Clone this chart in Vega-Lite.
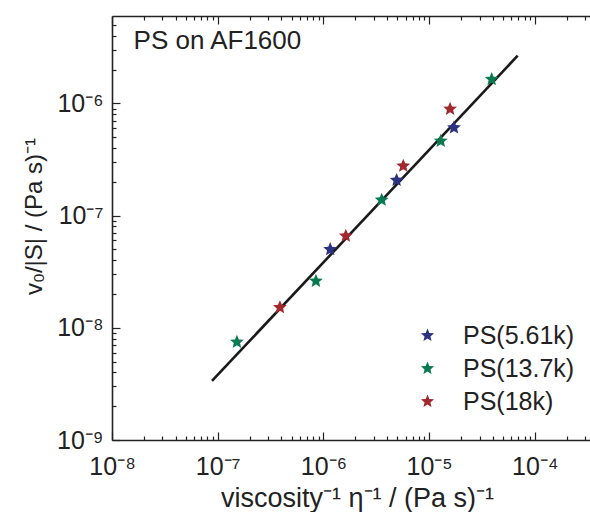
{
  "$schema": "https://vega.github.io/schema/vega-lite/v6.json",
  "width": 478,
  "height": 424,
  "autosize": {"type": "none"},
  "padding": {"left": 112, "top": 16, "right": 0, "bottom": 72},
  "background": "white",
  "config": {
    "view": {"stroke": null},
    "font": "Liberation Sans",
    "axis": {
      "grid": false,
      "domainColor": "#222222",
      "tickColor": "#222222",
      "labelColor": "#222222",
      "titleColor": "#222222",
      "labelFont": "Liberation Sans",
      "titleFont": "Liberation Sans",
      "labelFontSize": 25,
      "titleFontSize": 26,
      "titleFontWeight": "normal",
      "domainWidth": 1.6,
      "tickWidth": 1.2
    }
  },
  "datasets": {
    "points": [
      {"x": 1.52e-7, "y": 7.46e-9, "sample": "PS(13.7k)"},
      {"x": 3.88e-7, "y": 1.52e-8, "sample": "PS(18k)"},
      {"x": 8.5e-7, "y": 2.61e-8, "sample": "PS(13.7k)"},
      {"x": 1.16e-6, "y": 5.0e-8, "sample": "PS(5.61k)"},
      {"x": 1.63e-6, "y": 6.58e-8, "sample": "PS(18k)"},
      {"x": 3.56e-6, "y": 1.38e-7, "sample": "PS(13.7k)"},
      {"x": 4.93e-6, "y": 2.07e-7, "sample": "PS(5.61k)"},
      {"x": 5.70e-6, "y": 2.77e-7, "sample": "PS(18k)"},
      {"x": 1.29e-5, "y": 4.62e-7, "sample": "PS(13.7k)"},
      {"x": 1.72e-5, "y": 6.07e-7, "sample": "PS(5.61k)"},
      {"x": 1.58e-5, "y": 8.9e-7, "sample": "PS(18k)"},
      {"x": 3.91e-5, "y": 1.64e-6, "sample": "PS(13.7k)"}
    ],
    "fit": [
      {"x": 8.83e-8, "y": 3.36e-9},
      {"x": 6.89e-5, "y": 2.66e-6}
    ]
  },
  "resolve": {"axis": {"x": "independent", "y": "independent"}},
  "layer": [
    {
      "data": {"name": "fit"},
      "mark": {"type": "line", "color": "#1a1a1a", "strokeWidth": 2.6},
      "encoding": {
        "x": {
          "field": "x", "type": "quantitative",
          "scale": {"type": "log", "domain": [1e-8, 3.33e-4], "nice": false},
          "axis": {
            "orient": "bottom",
            "values": [1e-8, 1e-7, 1e-6, 1e-5, 1e-4],
            "labelExpr": "'10⁻' + ['⁰','¹','²','³','⁴','⁵','⁶','⁷','⁸','⁹'][round(-log(datum.value)/LN10)]",
            "tickSize": -8,
            "labelPadding": 22,
            "labelFlush": false,
            "labelOverlap": false,
            "title": "viscosity⁻¹ η⁻¹ / (Pa s)⁻¹",
            "titleFontSize": 27,
            "titleX": 245,
            "titlePadding": 6
          }
        },
        "y": {
          "field": "y", "type": "quantitative",
          "scale": {"type": "log", "domain": [1e-9, 6.01e-6], "nice": false},
          "axis": {
            "orient": "left",
            "values": [1e-9, 1e-8, 1e-7, 1e-6],
            "labelExpr": "'10⁻' + ['⁰','¹','²','³','⁴','⁵','⁶','⁷','⁸','⁹'][round(-log(datum.value)/LN10)]",
            "tickSize": -8,
            "labelPadding": 17,
            "labelFlush": false,
            "labelOverlap": false,
            "title": "v₀/|S|  / (Pa s)⁻¹",
            "titleFontSize": 24,
            "titleY": 200,
            "titlePadding": 10
          }
        }
      }
    },
    {
      "data": {"name": "points"},
      "mark": {
        "type": "point",
        "filled": true,
        "opacity": 1,
        "size": 210,
        "shape": "M0,-1L0.265,-0.364L0.951,-0.309L0.428,0.139L0.588,0.809L0,0.45L-0.588,0.809L-0.428,0.139L-0.951,-0.309L-0.265,-0.364Z"
      },
      "encoding": {
        "x": {
          "field": "x", "type": "quantitative",
          "scale": {"type": "log", "domain": [1e-8, 3.33e-4], "nice": false},
          "axis": {
            "orient": "bottom",
            "values": [2e-8, 3e-8, 4e-8, 5e-8, 6e-8, 7e-8, 8e-8, 9e-8, 2e-7, 3e-7, 4e-7, 5e-7, 6e-7, 7e-7, 8e-7, 9e-7, 2e-6, 3e-6, 4e-6, 5e-6, 6e-6, 7e-6, 8e-6, 9e-6, 2e-5, 3e-5, 4e-5, 5e-5, 6e-5, 7e-5, 8e-5, 9e-5, 2e-4, 3e-4],
            "labels": false, "domain": false, "tickSize": -4, "title": null
          }
        },
        "y": {
          "field": "y", "type": "quantitative",
          "scale": {"type": "log", "domain": [1e-9, 6.01e-6], "nice": false},
          "axis": {
            "orient": "left",
            "values": [2e-9, 3e-9, 4e-9, 5e-9, 6e-9, 7e-9, 8e-9, 9e-9, 2e-8, 3e-8, 4e-8, 5e-8, 6e-8, 7e-8, 8e-8, 9e-8, 2e-7, 3e-7, 4e-7, 5e-7, 6e-7, 7e-7, 8e-7, 9e-7, 2e-6, 3e-6, 4e-6, 5e-6],
            "labels": false, "domain": false, "tickSize": -4, "title": null
          }
        },
        "color": {
          "field": "sample", "type": "nominal",
          "scale": {"domain": ["PS(5.61k)", "PS(13.7k)", "PS(18k)"], "range": ["#2c3282", "#0a7a50", "#a2282f"]},
          "legend": {
            "orient": "none",
            "legendX": 303,
            "legendY": 307,
            "title": null,
            "labelFont": "Liberation Sans",
            "labelFontSize": 25,
            "labelColor": "#222222",
            "labelOffset": 23,
            "symbolType": "M0,-1L0.265,-0.364L0.951,-0.309L0.428,0.139L0.588,0.809L0,0.45L-0.588,0.809L-0.428,0.139L-0.951,-0.309L-0.265,-0.364Z",
            "symbolSize": 190,
            "symbolStrokeWidth": 0,
            "rowPadding": 7
          }
        }
      }
    },
    {
      "data": {"values": [{"label": "PS on AF1600"}]},
      "mark": {"type": "text", "align": "left", "baseline": "middle", "fontSize": 26, "font": "Liberation Sans", "color": "#222222"},
      "encoding": {
        "x": {
          "datum": 1.6e-8, "type": "quantitative",
          "scale": {"type": "log", "domain": [1e-8, 3.33e-4], "nice": false},
          "axis": {
            "orient": "top",
            "values": [1e-8, 1e-7, 1e-6, 1e-5, 1e-4],
            "labels": false, "tickSize": -8, "title": null
          }
        },
        "y": {
          "datum": 3.6e-6, "type": "quantitative",
          "scale": {"type": "log", "domain": [1e-9, 6.01e-6], "nice": false},
          "axis": null
        },
        "text": {"field": "label"}
      }
    },
    {
      "data": {"name": "fit"},
      "mark": {"type": "line", "opacity": 0},
      "encoding": {
        "x": {
          "field": "x", "type": "quantitative",
          "scale": {"type": "log", "domain": [1e-8, 3.33e-4], "nice": false},
          "axis": {
            "orient": "top",
            "values": [2e-8, 3e-8, 4e-8, 5e-8, 6e-8, 7e-8, 8e-8, 9e-8, 2e-7, 3e-7, 4e-7, 5e-7, 6e-7, 7e-7, 8e-7, 9e-7, 2e-6, 3e-6, 4e-6, 5e-6, 6e-6, 7e-6, 8e-6, 9e-6, 2e-5, 3e-5, 4e-5, 5e-5, 6e-5, 7e-5, 8e-5, 9e-5, 2e-4, 3e-4],
            "labels": false, "domain": false, "tickSize": -4, "title": null
          }
        },
        "y": {
          "field": "y", "type": "quantitative",
          "scale": {"type": "log", "domain": [1e-9, 6.01e-6], "nice": false},
          "axis": null
        }
      }
    }
  ]
}
